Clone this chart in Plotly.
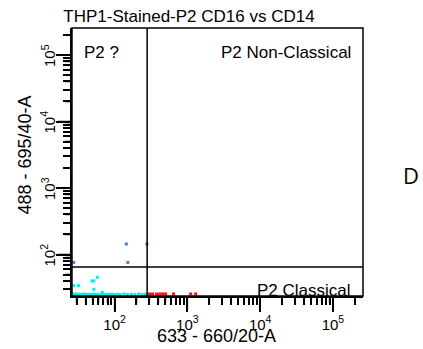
import math
import plotly.graph_objects as go

# ---- data ----
title_text = "THP1-Stained-P2 CD16 vs CD14"
x_label = "633 - 660/20-A"
y_label = "488 - 695/40-A"
major_vals = [100, 1000, 10000, 100000]
major_text = ["10<sup>2</sup>", "10<sup>3</sup>", "10<sup>4</sup>", "10<sup>5</sup>"]
gate_x = 280
gate_y = 65
quad_labels = ["P2 ?", "P2 Non-Classical", "P2 Classical"]
panel_letter = "D"

# cyan population (P2 ? / lower-left)
cyan_x = [27.5, 32, 49, 52, 58, 52, 68,
          26, 27, 28, 29, 30, 32, 34, 36, 38, 40, 43, 46, 50, 54, 58, 62, 67,
          72, 78, 85, 92, 100, 110, 120, 135, 150, 170, 190, 215, 240, 265, 280]
cyan_y = [34, 34, 40, 40, 45.4, 30, 27,
          25, 25.5, 25, 24.8, 25.5, 25, 25.3, 25, 25.5, 25, 25.2, 25, 25.5, 25, 25.3, 25, 25.5,
          25, 25.3, 25, 25.5, 25, 25.3, 25, 25.5, 25, 25.2, 25, 25.5, 25, 25.3, 25]
# blue events
blue_x = [145, 278, 152, 27.5]
blue_y = [144, 144, 76, 76]
# red events (P2 Classical)
red_x = [303, 333, 378, 416, 457, 503, 646, 1110, 1300]
red_y = [25.5, 25.5, 25.5, 25.5, 25.5, 25.5, 25.5, 25.5, 25.5]

x_range_log = [1.415, 5.413]
y_range_log = [1.376, 5.406]

W, H = 423, 349
M = dict(l=72, r=60, t=28, b=53)
plot_w = W - M["l"] - M["r"]
plot_h = H - M["t"] - M["b"]
MAJOR_LEN, MINOR_LEN = 14, 7

fig = go.Figure()
fig.add_trace(go.Scatter(x=cyan_x, y=cyan_y, mode="markers",
                         marker=dict(symbol="square", size=3, color="#00f0f0", line=dict(width=0)),
                         showlegend=False, hoverinfo="skip"))
fig.add_trace(go.Scatter(x=red_x, y=red_y, mode="markers",
                         marker=dict(symbol="square", size=3, color="#ff1010", line=dict(width=0)),
                         showlegend=False, hoverinfo="skip"))
fig.add_trace(go.Scatter(x=blue_x, y=blue_y, mode="markers",
                         marker=dict(symbol="square", size=3, color="#3a7dff", line=dict(width=0)),
                         showlegend=False, hoverinfo="skip"))
# quadrant gate lines
fig.add_trace(go.Scatter(x=[gate_x, gate_x], y=[10, 1e6], mode="lines",
                         line=dict(color="black", width=1.5), showlegend=False, hoverinfo="skip"))
fig.add_trace(go.Scatter(x=[10, 1e6], y=[gate_y, gate_y], mode="lines",
                         line=dict(color="black", width=1.5), showlegend=False, hoverinfo="skip"))

tick_font = dict(family="Liberation Sans", size=15, color="black")


def axis_common(rng, labels):
    return dict(type="log", automargin=False, gridcolor="rgba(0,0,0,0)",
                showline=True, linecolor="black", linewidth=1.5,
                ticks="outside", ticklen=MAJOR_LEN, tickwidth=1.5, tickcolor="black",
                tickmode="array", tickvals=major_vals, ticktext=major_text,
                showticklabels=labels, tickfont=tick_font, range=rng,
                minor=dict(ticks="outside", ticklen=MINOR_LEN, tickwidth=1.5,
                           tickcolor="black", dtick="D1"))


fig.layout["xaxis"] = dict(domain=[0, 1], anchor="y", **axis_common(x_range_log, True))
fig.layout["yaxis"] = dict(domain=[0, 1], anchor="x", **axis_common(y_range_log, False))

# tick marks also drawn as axis-edge segments, placed on the same log scale as the axes
minor_vals = [m * 10 ** e for e in range(1, 6) for m in range(2, 10)]


def frac(v, rng):
    return (math.log10(v) - rng[0]) / (rng[1] - rng[0])


tick_style = dict(color="black", width=1.5)
for vals, ln in ((major_vals, MAJOR_LEN), (minor_vals, MINOR_LEN)):
    for v in vals:
        fx = frac(v, x_range_log)
        if 0 <= fx <= 1:
            fig.add_shape(type="line", xref="paper", yref="paper", x0=fx, x1=fx,
                          y0=0, y1=-ln / plot_h, line=tick_style, layer="above")
        fy = frac(v, y_range_log)
        if 0 <= fy <= 1:
            fig.add_shape(type="line", xref="paper", yref="paper", y0=fy, y1=fy,
                          x0=0, x1=-ln / plot_w, line=tick_style, layer="above")

# rotated y tick labels (as in the reference)
for v, t in zip(major_vals, major_text):
    fig.add_annotation(text=t, xref="paper", yref="y", x=-0.0825, y=math.log10(v),
                       xanchor="center", yanchor="middle", textangle=-90, showarrow=False,
                       font=tick_font)

# plot frame (top / right edges)
fig.add_shape(type="rect", xref="paper", yref="paper", x0=0, y0=0, x1=1, y1=1,
              line=dict(color="black", width=1.5), fillcolor="rgba(0,0,0,0)", layer="above")

title_font = dict(family="Liberation Sans", size=18, color="black")
fig.add_annotation(text=x_label, xref="paper", yref="paper", x=0.497, y=-0.149,
                   xanchor="center", yanchor="middle", showarrow=False, font=title_font)
fig.add_annotation(text=y_label, xref="paper", yref="paper", x=-0.160, y=0.526,
                   xanchor="center", yanchor="middle", textangle=-90, showarrow=False,
                   font=title_font)

ann_font = dict(family="Liberation Sans", size=17, color="black")
fig.add_annotation(text=quad_labels[0], xref="paper", yref="paper", x=0.033, y=0.907,
                   xanchor="left", yanchor="middle", showarrow=False, font=ann_font)
fig.add_annotation(text=quad_labels[1], xref="paper", yref="paper", x=0.9656, y=0.907,
                   xanchor="right", yanchor="middle", showarrow=False, font=ann_font)
fig.add_annotation(text=quad_labels[2], xref="paper", yref="paper", x=0.9656, y=0.022,
                   xanchor="right", yanchor="middle", showarrow=False, font=ann_font)
fig.add_annotation(text=panel_letter, xref="paper", yref="paper", x=1.165, y=0.451,
                   xanchor="center", yanchor="middle", showarrow=False,
                   font=dict(family="Open Sans", size=22, color="black"))

fig.update_layout(
    width=W, height=H,
    margin=dict(autoexpand=False, **M),
    paper_bgcolor="white", plot_bgcolor="white",
    title=dict(text=title_text, x=189 / W, y=(H - 16.5) / H,
               xanchor="center", yanchor="middle",
               font=dict(family="Liberation Sans", size=17, color="black")),
)

fig.write_html("out.html")
